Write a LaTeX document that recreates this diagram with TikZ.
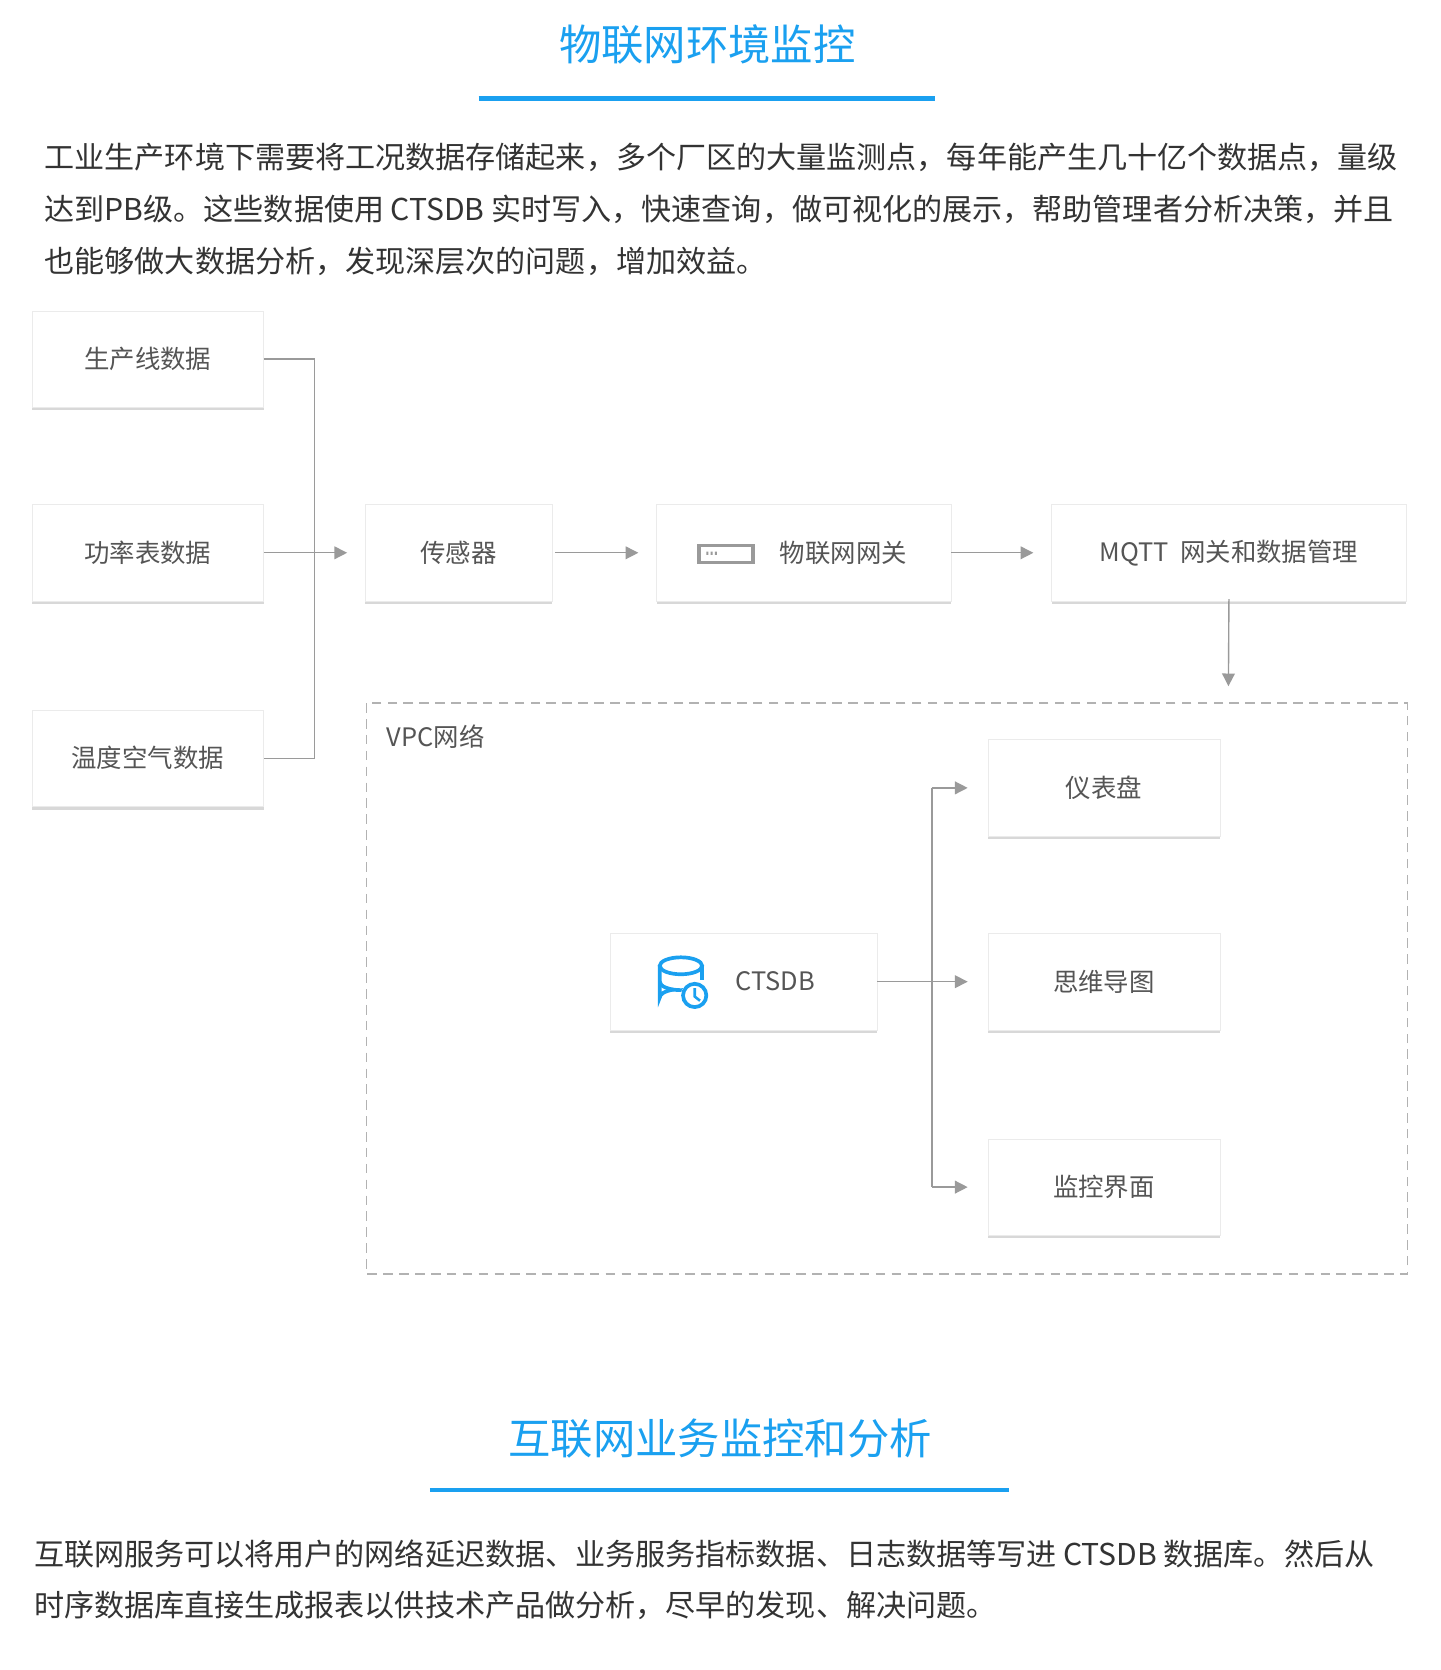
\documentclass[tikz,border=0pt]{standalone}
\usepackage{fontspec}
\setmainfont{Noto Sans CJK SC}
\usetikzlibrary{arrows.meta,shadows}
\definecolor{tblue}{HTML}{1AA0F0}
\definecolor{ln}{HTML}{9A9A9A}
\definecolor{tx}{HTML}{333333}
\definecolor{bx}{HTML}{555555}
\tikzset{
 box/.style={draw=black!8,fill=white,minimum height=91pt,inner sep=0pt,font=\fontsize{24}{28}\selectfont,text=bx,
   drop shadow={shadow xshift=0pt,shadow yshift=-3pt,opacity=0.3,fill=black!50}},
 conn/.style={draw=ln,line width=1.3pt,-{Triangle[length=12pt,width=12pt]}},
 plain/.style={draw=ln,line width=1.3pt},
 para/.style={anchor=west,inner sep=0pt,text=tx,font=\fontsize{28.4}{32}\selectfont},
 ttl/.style={text=tblue,font=\fontsize{40}{44}\selectfont,inner sep=0pt}
}
\begin{document}
\begin{tikzpicture}[x=1pt,y=-1pt]
\useasboundingbox[fill=white] (0,0) rectangle (1360,1577);
\node[ttl] (t1) at (668,42) {物联网环境监控};
\draw[tblue,line width=4pt] (452,93) -- (883,93);
\node[para] (p1) at (42,149) {工业生产环境下需要将工况数据存储起来，多个厂区的大量监测点，每年能产生几十亿个数据点，量级};
\node[para] (p2) at (42,198) {达到PB级。这些数据使用 CTSDB 实时写入，快速查询，做可视化的展示，帮助管理者分析决策，并且};
\node[para] (p3) at (42,247) {也能够做大数据分析，发现深层次的问题，增加效益。};

\node[box,minimum width=219pt] (a) at (139.5,339) {生产线数据};
\node[box,minimum width=219pt] (b) at (139.5,522) {功率表数据};
\node[box,minimum width=219pt] (c) at (139.5,716) {温度空气数据};
\node[box,minimum width=176pt] (s) at (433,522) {传感器};
\node[box,minimum width=278pt] (g) at (759,522) {\hspace{75pt}物联网网关};
\draw[ln,line width=3pt] (660,515) rectangle (711,531);
\fill[ln] (667,521) rectangle (669,524) (671,521) rectangle (673,524) (675,521) rectangle (677,524);
\node[box,minimum width=335pt] (m) at (1160.5,522) {MQTT\ \ 网关和数据管理};

\coordinate (j) at (297,522);
\draw[plain] (a.east) -| (j) |- (c.east);
\draw[conn] (b.east) -- ([xshift=-17pt]s.west);
\draw[conn] ([xshift=3pt]s.east) -- ([xshift=-17pt]g.west);
\draw[conn] (g.east) -- ([xshift=-17pt]m.west);
\coordinate (vin) at (1160,648);
\draw[conn] ([yshift=2pt]m.south) -- (vin);

\draw[draw=black!30,line width=1.5pt,dash pattern=on 9pt off 6pt] (346,664) rectangle (1329,1203);
\node[anchor=west,inner sep=0pt,text=bx,font=\fontsize{24}{28}\selectfont] (vpc) at (365,696) {VPC网络};

\node[box,minimum width=252pt] (db) at (702,927) {\hspace{60pt}CTSDB};
\node[box,minimum width=219pt] (d1) at (1042.5,744) {仪表盘};
\node[box,minimum width=219pt] (d2) at (1042.5,927) {思维导图};
\node[box,minimum width=219pt] (d3) at (1042.5,1121) {监控界面};
\coordinate (k) at (880,927);
\draw[conn] (db.east) -- ([xshift=-19pt]d2.west);
\draw[plain] (k |- d1) -- (k |- d3);
\draw[conn] (k |- d1) -- ([xshift=-19pt]d1.west);
\draw[conn] (k |- d3) -- ([xshift=-19pt]d3.west);
% CTSDB icon
\begin{scope}[tblue,line width=3.5pt]
\draw (643,912) ellipse (20pt and 8pt);
\draw (623,912) -- (623,942) arc (180:110:20pt and 8pt);
\draw (663,912) -- (663,925);
\draw (623,927) arc (180:300:20pt and 8pt);
\fill[white] (656,940) circle (13pt);
\draw (656,940) circle (11pt);
\draw[line width=2.5pt] (656,933) -- (656,941) -- (661,945);
\end{scope}

\node[ttl] (t2) at (680,1358) {互联网业务监控和分析};
\draw[tblue,line width=4pt] (406,1407) -- (953,1407);
\node[para] (q1) at (32,1467) {互联网服务可以将用户的网络延迟数据、业务服务指标数据、日志数据等写进 CTSDB 数据库。然后从};
\node[para] (q2) at (32,1516) {时序数据库直接生成报表以供技术产品做分析，尽早的发现、解决问题。};
\end{tikzpicture}
\end{document}
